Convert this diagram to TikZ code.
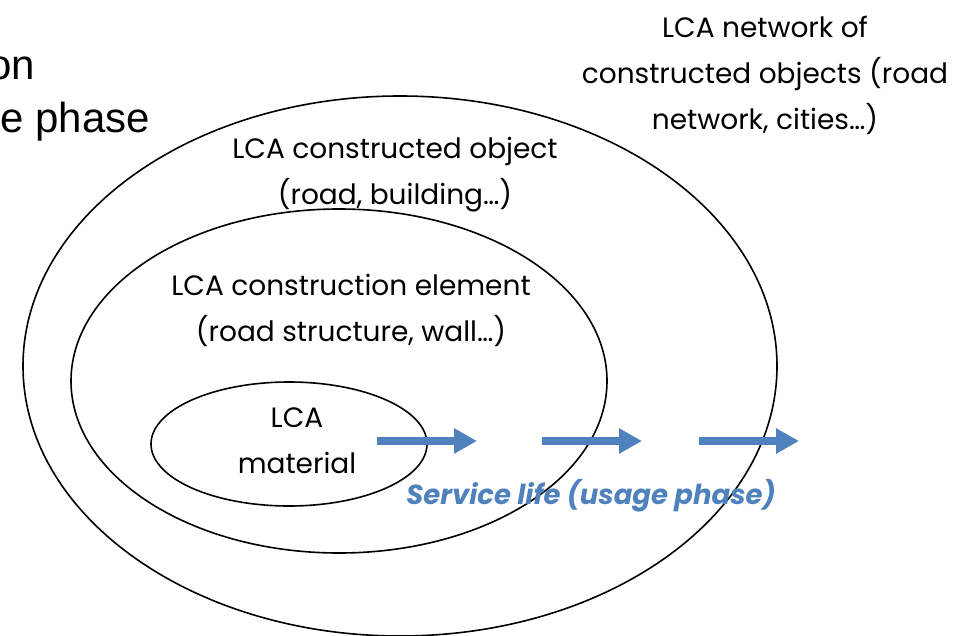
\documentclass[tikz,border=0pt]{standalone}
\usepackage{fontspec}
\setmainfont{Poppins}
\newfontfamily\arialf{Liberation Sans}
\usetikzlibrary{arrows.meta,shapes.geometric}
\definecolor{lcablue}{HTML}{4F81BD}
\tikzset{
  ring/.style={draw=black, line width=1.6pt, ellipse, inner sep=0pt},
  lbl/.style={align=center, font=\fontsize{28}{46}\selectfont, inner sep=0pt},
  usearrow/.style={draw=lcablue, line width=8pt, -{Triangle[length=23pt,width=24pt]}},
  sidetxt/.style={font=\arialf\fontsize{42}{54}\selectfont, inner sep=0pt, anchor=east},
}
\begin{document}
\begin{tikzpicture}[x=1pt,y=-1pt]
\useasboundingbox (0,0) rectangle (965,636);
% ellipses
\node[ring, minimum width=754pt, minimum height=540pt] (outer) at (400,366) {};
\node[ring, minimum width=536pt, minimum height=344pt] (middle) at (339,381) {};
\node[ring, minimum width=276pt, minimum height=124pt] (inner) at (289,444) {};
% labels
\node[lbl] (net) at (765,75) {LCA network of\\constructed objects (road\\network, cities\dots)};
\node[lbl] (obj) at (395,175) {LCA constructed object\\(road, building\dots)};
\node[lbl] (elem) at (351,310) {LCA construction element\\(road structure, wall\dots)};
\node[lbl] (mat) at (297,441) {LCA\\material};
\node[font=\bfseries\itshape\fontsize{27.5}{30}\selectfont, text=lcablue, inner sep=0pt] (svc) at (591,496) {Service life (usage phase)};
% side text
\node[sidetxt] (on) at (35,68) {on};
\node[sidetxt] (ph) at (150,122) {e phase};
% arrows
\coordinate (a1s) at (377,441); \coordinate (a1e) at (477,441);
\coordinate (a2s) at (542,441); \coordinate (a2e) at (642,441);
\coordinate (a3s) at (699,441); \coordinate (a3e) at (799,441);
\draw[usearrow] (a1s) -- (a1e);
\draw[usearrow] (a2s) -- (a2e);
\draw[usearrow] (a3s) -- (a3e);
\end{tikzpicture}
\end{document}
